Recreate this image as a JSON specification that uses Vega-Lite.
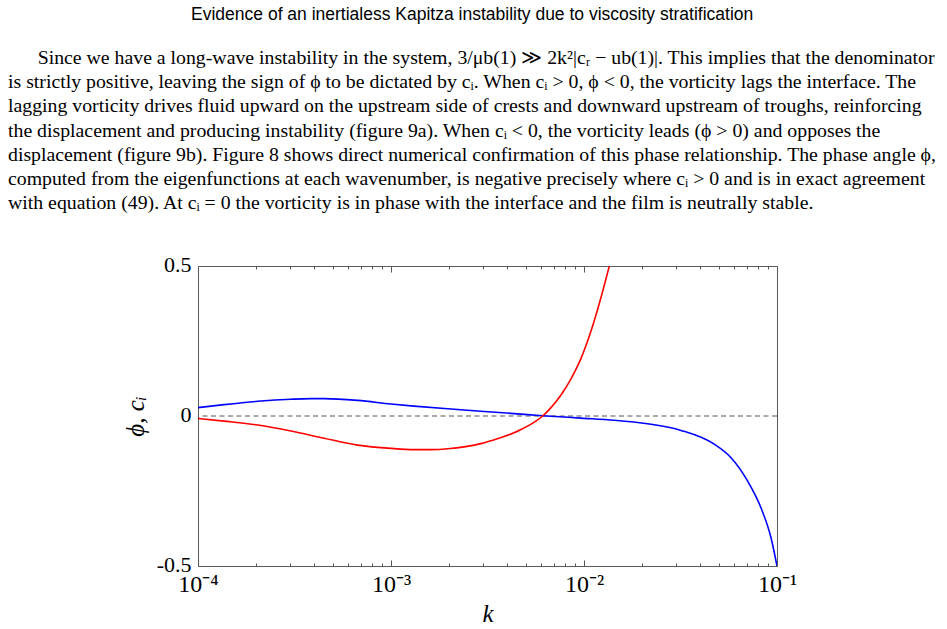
{
  "$schema": "https://vega.github.io/schema/vega-lite/v6.json",
  "background": "white",
  "padding": {"left": 7, "top": 6, "right": 0, "bottom": 0},
  "title": {
    "text": "Evidence of an inertialess Kapitza instability due to viscosity stratification",
    "anchor": "middle",
    "font": "Liberation Sans",
    "fontSize": 17.5,
    "fontWeight": "normal",
    "color": "#000000",
    "offset": 24
  },
  "datasets": {
    "curves": [
      {"series": "c_i", "k": 0.0001, "value": 0.028},
      {"series": "c_i", "k": 0.0001365, "value": 0.038},
      {"series": "c_i", "k": 0.0002037, "value": 0.049},
      {"series": "c_i", "k": 0.0003034, "value": 0.056},
      {"series": "c_i", "k": 0.0003846, "value": 0.058},
      {"series": "c_i", "k": 0.0004498, "value": 0.058},
      {"series": "c_i", "k": 0.0006714, "value": 0.052},
      {"series": "c_i", "k": 0.001, "value": 0.04},
      {"series": "c_i", "k": 0.001315, "value": 0.033},
      {"series": "c_i", "k": 0.001968, "value": 0.024},
      {"series": "c_i", "k": 0.002924, "value": 0.016},
      {"series": "c_i", "k": 0.004335, "value": 0.008},
      {"series": "c_i", "k": 0.006109, "value": 0.001},
      {"series": "c_i", "k": 0.009638, "value": -0.007},
      {"series": "c_i", "k": 0.01435, "value": -0.014},
      {"series": "c_i", "k": 0.02138, "value": -0.026},
      {"series": "c_i", "k": 0.03184, "value": -0.048},
      {"series": "c_i", "k": 0.04732, "value": -0.094},
      {"series": "c_i", "k": 0.05781, "value": -0.139},
      {"series": "c_i", "k": 0.07047, "value": -0.217},
      {"series": "c_i", "k": 0.0826, "value": -0.306},
      {"series": "c_i", "k": 0.09312, "value": -0.406},
      {"series": "c_i", "k": 0.1, "value": -0.5},
      {"series": "phi", "k": 0.0001, "value": -0.008},
      {"series": "phi", "k": 0.0001365, "value": -0.017},
      {"series": "phi", "k": 0.0002037, "value": -0.03},
      {"series": "phi", "k": 0.0003034, "value": -0.05},
      {"series": "phi", "k": 0.0004498, "value": -0.074},
      {"series": "phi", "k": 0.0006714, "value": -0.097},
      {"series": "phi", "k": 0.001, "value": -0.108},
      {"series": "phi", "k": 0.001316, "value": -0.112},
      {"series": "phi", "k": 0.001612, "value": -0.112},
      {"series": "phi", "k": 0.001967, "value": -0.109},
      {"series": "phi", "k": 0.002389, "value": -0.103},
      {"series": "phi", "k": 0.002926, "value": -0.092},
      {"series": "phi", "k": 0.003584, "value": -0.075},
      {"series": "phi", "k": 0.004338, "value": -0.056},
      {"series": "phi", "k": 0.004717, "value": -0.045},
      {"series": "phi", "k": 0.005127, "value": -0.033},
      {"series": "phi", "k": 0.005608, "value": -0.018},
      {"series": "phi", "k": 0.006109, "value": 0.0},
      {"series": "phi", "k": 0.006745, "value": 0.028},
      {"series": "phi", "k": 0.0076, "value": 0.07},
      {"series": "phi", "k": 0.008561, "value": 0.124},
      {"series": "phi", "k": 0.00965, "value": 0.192},
      {"series": "phi", "k": 0.010871, "value": 0.283},
      {"series": "phi", "k": 0.012245, "value": 0.395},
      {"series": "phi", "k": 0.013524, "value": 0.5}
    ]
  },
  "vconcat": [
    {
      "width": 579,
      "height": 300,
      "title": {
        "text": [
          "\u200b\u00a0\u00a0\u00a0\u00a0\u00a0\u00a0Since we have a long-wave instability in the system, 3/μb(1) ≫ 2k²|cᵣ − ub(1)|. This implies that the denominator",
          "is strictly positive, leaving the sign of ϕ to be dictated by cᵢ. When cᵢ > 0, ϕ < 0, the vorticity lags the interface. The",
          "lagging vorticity drives fluid upward on the upstream side of crests and downward upstream of troughs, reinforcing",
          "the displacement and producing instability (figure 9a). When cᵢ < 0, the vorticity leads (ϕ > 0) and opposes the",
          "displacement (figure 9b). Figure 8 shows direct numerical confirmation of this phase relationship. The phase angle ϕ,",
          "computed from the eigenfunctions at each wavenumber, is negative precisely where cᵢ > 0 and is in exact agreement",
          "with equation (49). At cᵢ = 0 the vorticity is in phase with the interface and the film is neutrally stable."
        ],
        "anchor": "start",
        "frame": "group",
        "dx": -190,
        "font": "Liberation Serif",
        "fontSize": 19.8,
        "fontWeight": "normal",
        "lineHeight": 24.2,
        "color": "#000000",
        "offset": 40
      },
      "layer": [
        {
          "data": {"values": [{"level": 0}]},
          "mark": {"type": "rule", "color": "#555555", "strokeWidth": 1, "strokeDash": [5, 3.5]},
          "encoding": {
            "y": {"field": "level", "type": "quantitative", "scale": {"domain": [-0.5, 0.5], "nice": false}}
          }
        },
        {
          "data": {"name": "curves"},
          "transform": [{"filter": "datum.series === 'c_i'"}],
          "mark": {"type": "line", "strokeWidth": 1.6, "interpolate": "monotone", "clip": true},
          "encoding": {
            "x": {
              "field": "k",
              "type": "quantitative",
              "scale": {"type": "log", "domain": [0.0001, 0.1], "nice": false},
              "axis": {
                "orient": "bottom",
                "values": [0.0001, 0.0002, 0.0003, 0.0004, 0.0005, 0.0006, 0.0007, 0.0008, 0.0009, 0.001, 0.002, 0.003, 0.004, 0.005, 0.006, 0.007, 0.008, 0.009, 0.01, 0.02, 0.03, 0.04, 0.05, 0.06, 0.07, 0.08, 0.09, 0.1],
                "domain": false,
                "grid": false,
                "tickColor": "#555555",
                "tickWidth": 1,
                "tickSize": {"condition": {"test": "abs(log(datum.value) / LN10 - round(log(datum.value) / LN10)) < 0.001", "value": -6}, "value": -3},
                "labelExpr": "datum.value == 0.0001 ? '10⁻⁴' : datum.value == 0.001 ? '10⁻³' : datum.value == 0.01 ? '10⁻²' : datum.value == 0.1 ? '10⁻¹' : ''",
                "labelFlush": false,
                "labelOverlap": false,
                "labelFont": "Liberation Serif",
                "labelFontSize": 24,
                "labelColor": "#000000",
                "labelPadding": 12,
                "title": "k",
                "titleFont": "Liberation Serif",
                "titleFontStyle": "italic",
                "titleFontWeight": "normal",
                "titleFontSize": 25,
                "titleColor": "#000000",
                "titlePadding": 2
              }
            },
            "y": {
              "field": "value",
              "type": "quantitative",
              "scale": {"domain": [-0.5, 0.5], "nice": false},
              "axis": {
                "values": [-0.5, 0, 0.5],
                "labelExpr": "toString(datum.value)",
                "ticks": false,
                "domain": false,
                "grid": false,
                "labelFont": "Liberation Serif",
                "labelFontSize": 22,
                "labelColor": "#000000",
                "labelPadding": 7,
                "labelOffset": -2,
                "title": "ϕ, cᵢ",
                "titleFont": "Liberation Serif",
                "titleFontStyle": "italic",
                "titleFontWeight": "normal",
                "titleFontSize": 25,
                "titleColor": "#000000",
                "titlePadding": 8
              }
            },
            "color": {
              "field": "series",
              "type": "nominal",
              "scale": {"domain": ["phi", "c_i"], "range": ["#ff0000", "#0000ff"]},
              "legend": null
            }
          }
        },
        {
          "data": {"name": "curves"},
          "transform": [{"filter": "datum.series === 'phi'"}],
          "mark": {"type": "line", "strokeWidth": 1.6, "interpolate": "monotone", "clip": true},
          "encoding": {
            "x": {
              "field": "k",
              "type": "quantitative",
              "scale": {"type": "log", "domain": [0.0001, 0.1], "nice": false},
              "axis": {
                "orient": "top",
                "values": [0.0001, 0.0002, 0.0003, 0.0004, 0.0005, 0.0006, 0.0007, 0.0008, 0.0009, 0.001, 0.002, 0.003, 0.004, 0.005, 0.006, 0.007, 0.008, 0.009, 0.01, 0.02, 0.03, 0.04, 0.05, 0.06, 0.07, 0.08, 0.09, 0.1],
                "domain": false,
                "grid": false,
                "labels": false,
                "tickColor": "#555555",
                "tickWidth": 1,
                "tickSize": {"condition": {"test": "abs(log(datum.value) / LN10 - round(log(datum.value) / LN10)) < 0.001", "value": -6}, "value": -3},
                "title": null
              }
            },
            "y": {"field": "value", "type": "quantitative", "scale": {"domain": [-0.5, 0.5], "nice": false}},
            "color": {
              "field": "series",
              "type": "nominal",
              "scale": {"domain": ["phi", "c_i"], "range": ["#ff0000", "#0000ff"]},
              "legend": null
            }
          }
        }
      ],
      "resolve": {"axis": {"x": "independent"}}
    }
  ],
  "config": {
    "view": {"stroke": "#5a5a5a", "strokeWidth": 1}
  }
}
